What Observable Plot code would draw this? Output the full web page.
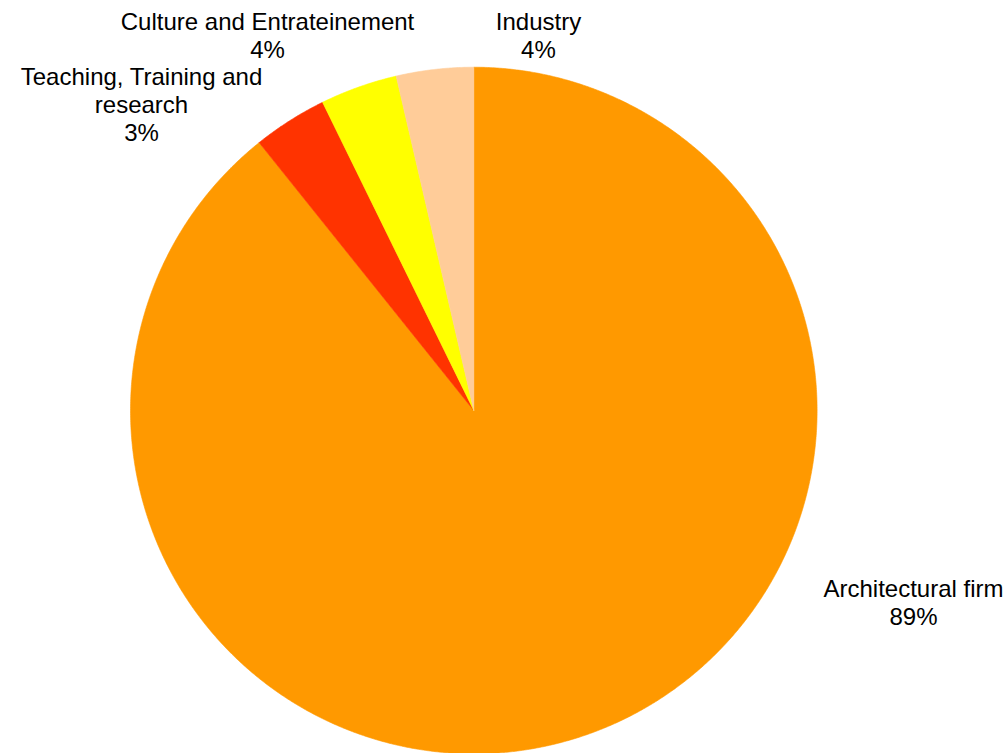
<!DOCTYPE html>
<html>
<head>
<meta charset="utf-8">
<script src="https://cdn.jsdelivr.net/npm/d3@7"></script>
<script src="https://cdn.jsdelivr.net/npm/@observablehq/plot@0.6"></script>
<style>
  html, body { margin: 0; padding: 0; background: #fff; }
  #chart { width: 1008px; height: 753px; overflow: hidden; }
</style>
</head>
<body>
<div id="chart"></div>
<script>
// ---- data ----
const categories = ["Architectural firm", "Teaching, Training and\nresearch", "Culture and Entrateinement", "Industry"];
const shares = [89.25, 3.49, 3.63, 3.63];
const colors = ["#FF9900", "#FF3300", "#FFFF00", "#FFCC99"];

// ---- layout (label placement, polar: degrees clockwise from 12 o'clock, radius in pie radii) ----
const labelPolar = [
  {angle: 113.54, radius: 1.397},
  {angle: 312.72, radius: 1.3175},
  {angle: 331.22, radius: 1.248},
  {angle: 9.77, radius: 1.110}
];

const pie = d3.pie().sort(null).value(d => d.value).startAngle(0).endAngle(2 * Math.PI);
const rows = categories.map((name, i) => ({name, value: shares[i]}));
const arcs = pie(rows);

// polygon vertices in unit-circle data space
const slicePts = [];
arcs.forEach(a => {
  const n = Math.max(2, Math.ceil((a.endAngle - a.startAngle) / 0.005));
  slicePts.push({name: a.data.name, x: 0, y: 0});
  for (let k = 0; k <= n; k++) {
    const t = a.startAngle + (a.endAngle - a.startAngle) * k / n;
    slicePts.push({name: a.data.name, x: Math.sin(t), y: Math.cos(t)});
  }
  slicePts.push({name: a.data.name, x: 0, y: 0});
});

const labels = arcs.map((a, i) => {
  const p = labelPolar[i];
  const t = p.angle * Math.PI / 180;
  return {
    name: a.data.name,
    text: a.data.name + "\n" + Math.round(a.data.value) + "%",
    x: p.radius * Math.sin(t),
    y: p.radius * Math.cos(t)
  };
});

const chart = Plot.plot({
  width: 1008,
  height: 753,
  margin: 0,
  style: {background: "#fff", fontFamily: "'Liberation Sans', Arial, sans-serif"},
  x: {domain: [-1, 1], range: [130, 816.6], axis: null},
  y: {domain: [-1, 1], range: [753.3, 66.7], axis: null},
  color: {domain: categories, range: colors},
  marks: [
    Plot.line(slicePts, {x: "x", y: "y", z: "name", fill: "name", stroke: "name", strokeWidth: 0.6, curve: "linear"}),
    Plot.text(labels, {x: "x", y: "y", text: "text", fill: "#000", fontSize: 24, lineHeight: 1.17, textAnchor: "middle", lineAnchor: "middle"})
  ]
});
document.getElementById("chart").appendChild(chart);
</script>
</body>
</html>
